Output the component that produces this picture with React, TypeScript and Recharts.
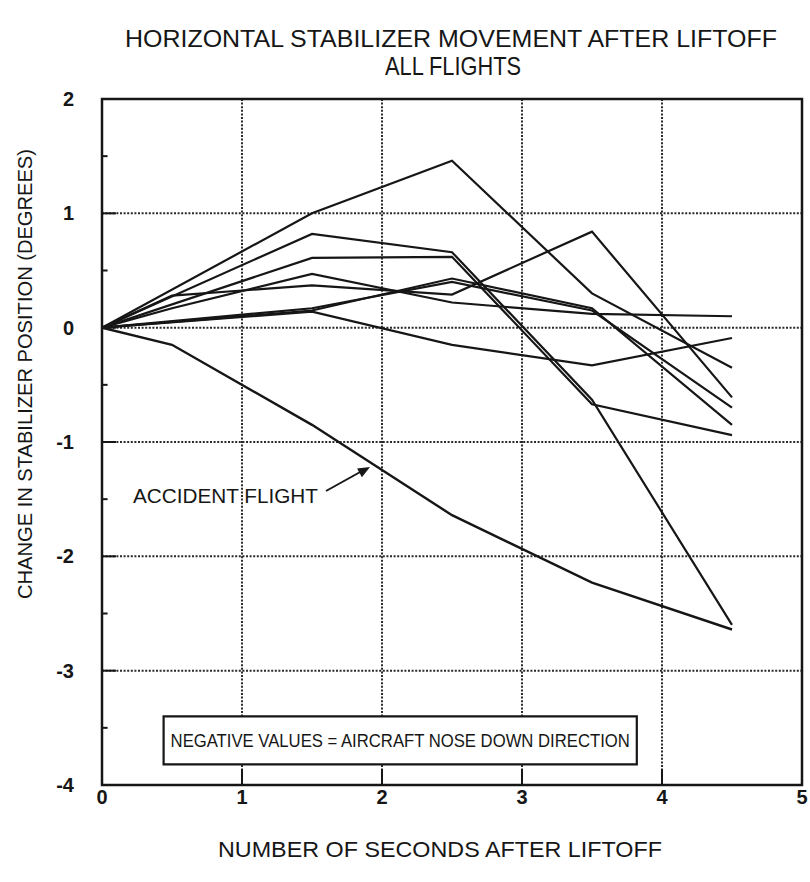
import React from 'react'
import { LineChart, Line, XAxis, YAxis, CartesianGrid, ReferenceArea, ReferenceLine } from 'recharts'

// seconds after liftoff where the traces have vertices
const seconds = [0, 0.5, 1.5, 2.5, 3.5, 4.5]

// change in stabilizer position (degrees), null = no vertex at that time
const flightA = [0, null, 1.0, 1.46, 0.3, -0.35]
const flightB = [0, 0.28, 0.37, 0.29, 0.84, -0.61]
const flightC = [0, null, 0.82, 0.66, -0.63, -2.6]
const flightD = [0, null, 0.61, 0.62, -0.67, -0.94]
const flightE = [0, 0.17, 0.47, 0.22, 0.12, 0.1]
const flightF = [0, null, 0.15, 0.43, 0.17, -0.85]
const flightG = [0, null, 0.17, 0.4, 0.15, -0.7]
const flightH = [0, null, 0.14, -0.15, -0.33, -0.09]
const accidentFlight = [0, -0.15, -0.85, -1.64, -2.23, -2.64]

const otherFlights = [flightA, flightB, flightC, flightD, flightE, flightF, flightG, flightH]

const xTicks = [0, 1, 2, 3, 4, 5]
const yTicks = [2, 1, 0, -1, -2, -3, -4]
const yMinorTicks = [1.5, 0.5, -0.5, -1.5, -2.5, -3.5]
const xInnerTicks = [1, 2, 3, 4]

const toPoints = (vals: (number | null)[]) =>
  seconds.map((s, i) => ({ s, v: vals[i] })).filter((p) => p.v !== null)

const font = "'Liberation Sans', Arial, Helvetica, sans-serif"
const ink = '#161616'

function BoxLabel(props: any) {
  const { x, y, width, height } = props.viewBox || {}
  return (
    <text
      x={x + width / 2}
      y={y + height / 2 + 7}
      textAnchor="middle"
      fontFamily={font}
      fontSize={19}
      fill={ink}
      textLength={width - 14}
      lengthAdjust="spacingAndGlyphs"
    >
      NEGATIVE VALUES = AIRCRAFT NOSE DOWN DIRECTION
    </text>
  )
}

export default function App() {
  return (
    <div style={{ position: 'absolute', left: 0, top: 0, width: 810, height: 882, background: '#fff' }}>
      <LineChart width={810} height={882} margin={{ top: 99, right: 8, bottom: 37, left: 42 }}>
        <CartesianGrid stroke="#2a2a2a" strokeWidth={2} strokeDasharray="2 1.6" />
        <XAxis
          type="number"
          dataKey="s"
          domain={[0, 5]}
          ticks={xTicks}
          allowDataOverflow
          height={60}
          tickSize={0}
          tickMargin={5}
          axisLine={{ stroke: ink, strokeWidth: 2 }}
          tick={{ fill: ink, fontSize: 20, fontWeight: 700, fontFamily: font }}
        />
        <YAxis
          type="number"
          domain={[-4, 2]}
          ticks={yTicks}
          allowDataOverflow
          width={60}
          tickSize={0}
          tickMargin={28}
          axisLine={{ stroke: ink, strokeWidth: 2 }}
          tick={{ fill: ink, fontSize: 20, fontWeight: 700, fontFamily: font }}
        />
        <ReferenceArea x1={0} x2={5} y1={-4} y2={2} fill="none" stroke={ink} strokeWidth={2.5} />
        {yTicks.map((t) => (
          <ReferenceLine key={'yt' + t} segment={[{ x: 0, y: t }, { x: 0.1, y: t }]} stroke={ink} strokeWidth={2} />
        ))}
        {yMinorTicks.map((t) => (
          <ReferenceLine key={'ym' + t} segment={[{ x: 0, y: t }, { x: 0.04, y: t }]} stroke={ink} strokeWidth={2} />
        ))}
        {xInnerTicks.map((t) => (
          <ReferenceLine key={'xt' + t} segment={[{ x: t, y: -4 }, { x: t, y: -3.86 }]} stroke={ink} strokeWidth={2} />
        ))}
        <ReferenceArea
          x1={0.44}
          x2={3.82}
          y1={-3.82}
          y2={-3.4}
          fill="#fff"
          fillOpacity={1}
          stroke={ink}
          strokeWidth={2.2}
          label={<BoxLabel />}
        />
        {otherFlights.map((f, i) => (
          <Line
            key={i}
            data={toPoints(f)}
            dataKey="v"
            type="linear"
            stroke={ink}
            strokeWidth={2.2}
            dot={false}
            isAnimationActive={false}
          />
        ))}
        <Line
          data={toPoints(accidentFlight)}
          dataKey="v"
          type="linear"
          stroke={ink}
          strokeWidth={2.4}
          dot={false}
          isAnimationActive={false}
        />
      </LineChart>

      <svg width={810} height={882} style={{ position: 'absolute', left: 0, top: 0, pointerEvents: 'none' }}>
        <text x={451} y={47} textAnchor="middle" fontFamily={font} fontSize={24} fill={ink} textLength={652} lengthAdjust="spacingAndGlyphs">
          HORIZONTAL STABILIZER MOVEMENT AFTER LIFTOFF
        </text>
        <text x={453} y={75} textAnchor="middle" fontFamily={font} fontSize={25} fill={ink} textLength={136} lengthAdjust="spacingAndGlyphs">
          ALL FLIGHTS
        </text>
        <text
          x={32}
          y={374}
          transform="rotate(-90 32 374)"
          textAnchor="middle"
          fontFamily={font}
          fontSize={21}
          fill={ink}
          textLength={450}
          lengthAdjust="spacingAndGlyphs"
        >
          CHANGE IN STABILIZER POSITION (DEGREES)
        </text>
        <text x={440} y={857} textAnchor="middle" fontFamily={font} fontSize={22} fill={ink} textLength={444} lengthAdjust="spacingAndGlyphs">
          NUMBER OF SECONDS AFTER LIFTOFF
        </text>
        <text x={133} y={503} fontFamily={font} fontSize={20} fill={ink} textLength={185} lengthAdjust="spacingAndGlyphs">
          ACCIDENT FLIGHT
        </text>
        <line x1={326} y1={491} x2={362} y2={471} stroke={ink} strokeWidth={2} />
        <polygon points="370,467 361.9,477.2 357.1,468.4" fill={ink} />
      </svg>
    </div>
  )
}
